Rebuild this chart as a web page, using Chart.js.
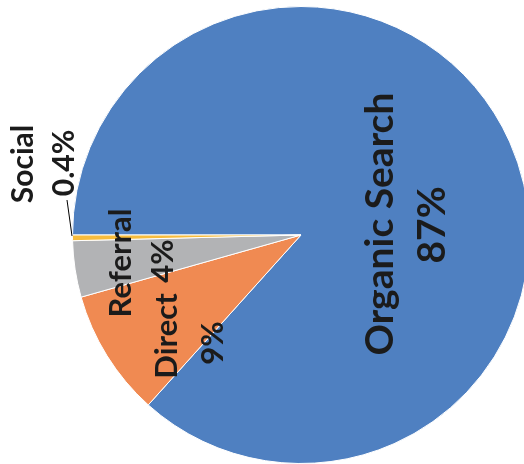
<!DOCTYPE html>
<html>
<head>
<meta charset="utf-8">
<script src="https://cdn.jsdelivr.net/npm/chart.js@4"></script>
<style>
  html, body { margin: 0; padding: 0; background: #fff; overflow: hidden; }
  #wrap { width: 524px; height: 464px; overflow: hidden; }
</style>
</head>
<body>
<div id="wrap"><canvas id="pie" width="530" height="464"></canvas></div>
<script>
// data
const categories = ['Organic Search', 'Direct', 'Referral', 'Social'];
const shares = [87, 9, 4, 0.4];
const shareLabels = ['87%', '9%', '4%', '0.4%'];
const sliceColors = ['#4f80c1', '#f08a52', '#b2b3b5', '#f7bc3d'];

// where each label sits, relative to the pie centre (name / value columns)
const labelLayout = [
  { size: 39, name: [79, -11], value: [131, -10] },
  { size: 31, name: [-134, 101], value: [-88, 108] },
  { size: 31, name: [-180, 28], value: [-138, 26] },
  { size: 30, name: [-278, -71], value: [-237, -72] }
];

const pieLabels = {
  id: 'pieLabels',
  afterDatasetsDraw(chart) {
    const ctx = chart.ctx;
    const arc = chart.getDatasetMeta(0).data[0];
    const cx = arc.x, cy = arc.y;
    ctx.save();
    ctx.fillStyle = '#1b1b1b';
    ctx.textAlign = 'center';
    ctx.textBaseline = 'middle';
    categories.forEach((name, i) => {
      const l = labelLayout[i];
      ctx.font = 'bold ' + l.size + 'px Lato';
      [[name, l.name], [shareLabels[i], l.value]].forEach(([txt, p]) => {
        ctx.save();
        ctx.translate(cx + p[0], cy + p[1]);
        ctx.rotate(-Math.PI / 2);
        ctx.fillText(txt, 0, 0);
        ctx.restore();
      });
    });
    // leader line for the tiny Social slice
    ctx.strokeStyle = '#000';
    ctx.lineWidth = 1;
    ctx.beginPath();
    ctx.moveTo(cx - 234, cy - 35);
    ctx.lineTo(cx - 229, cy + 1);
    ctx.stroke();
    ctx.restore();
  }
};

new Chart(document.getElementById('pie'), {
  type: 'pie',
  data: {
    labels: categories,
    datasets: [{
      data: shares,
      backgroundColor: sliceColors,
      borderColor: '#ffffff',
      borderWidth: 1
    }]
  },
  options: {
    responsive: false,
    animation: false,
    rotation: 270,
    layout: { padding: { left: 72, right: 0, top: 6, bottom: 0 } },
    plugins: { legend: { display: false }, tooltip: { enabled: false } }
  },
  plugins: [pieLabels]
});
</script>
</body>
</html>
